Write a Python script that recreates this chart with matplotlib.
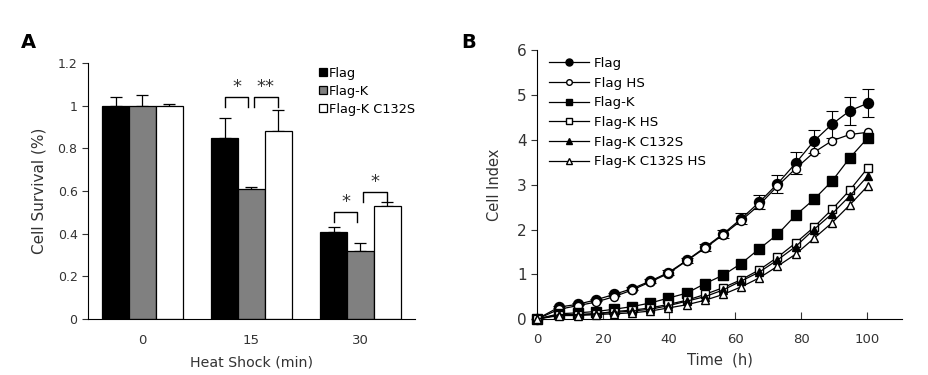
import matplotlib
matplotlib.use("Agg")

import matplotlib.pyplot as plt
import numpy as np

plt.rcParams["font.family"] = ["DejaVu Sans"]

# panel A: cell survival after heat shock
heat_shock = ["0", "15", "30"]
bar_series = ["Flag", "Flag-K", "Flag-K C132S"]
survival_flag = [1.00, 0.85, 0.41]
survival_flagk = [1.00, 0.61, 0.32]
survival_c132s = [1.00, 0.88, 0.53]
err_flag = [0.04, 0.09, 0.02]
err_flagk = [0.05, 0.01, 0.035]
err_c132s = [0.01, 0.10, 0.02]

# significance brackets: (group, left bar, right bar, height, label)
brackets = [
    (1, 0, 1, 1.04, "*"),
    (1, 1, 2, 1.04, "**"),
    (2, 0, 1, 0.50, "*"),
    (2, 1, 2, 0.595, "*"),
]

# panel B: cell index over time
time_h = [0, 6.7, 12.3, 17.8, 23.3, 28.8, 34.3, 39.8, 45.3, 50.8,
          56.3, 61.8, 67.3, 72.8, 78.3, 83.8, 89.3, 94.7, 100.2]
ci_flag = [0, 0.27, 0.33, 0.43, 0.55, 0.68, 0.85, 1.04, 1.31, 1.60,
           1.90, 2.24, 2.61, 3.02, 3.48, 3.97, 4.35, 4.65, 4.82]
ci_flag_err = [0, 0.02, 0.02, 0.03, 0.03, 0.04, 0.05, 0.05, 0.06, 0.07,
               0.09, 0.12, 0.16, 0.20, 0.24, 0.26, 0.30, 0.31, 0.31]
ci_flag_hs = [0, 0.22, 0.30, 0.38, 0.50, 0.65, 0.83, 1.02, 1.30, 1.58,
              1.88, 2.20, 2.55, 2.97, 3.36, 3.72, 3.98, 4.12, 4.17]
ci_flagk = [0, 0.12, 0.14, 0.17, 0.22, 0.28, 0.36, 0.47, 0.58, 0.79,
            0.98, 1.24, 1.57, 1.89, 2.32, 2.67, 3.08, 3.60, 4.05]
ci_flagk_hs = [0, 0.10, 0.10, 0.12, 0.17, 0.20, 0.25, 0.33, 0.42, 0.55,
               0.70, 0.88, 1.10, 1.38, 1.70, 2.05, 2.45, 2.88, 3.38]
ci_c132s = [0, 0.10, 0.10, 0.12, 0.15, 0.18, 0.22, 0.30, 0.40, 0.50,
            0.65, 0.85, 1.05, 1.32, 1.62, 2.00, 2.35, 2.75, 3.20]
ci_c132s_hs = [0, 0.08, 0.08, 0.10, 0.12, 0.14, 0.18, 0.25, 0.32, 0.42,
               0.55, 0.72, 0.92, 1.18, 1.45, 1.80, 2.15, 2.55, 2.98]
line_labels = ["Flag", "Flag HS", "Flag-K", "Flag-K HS", "Flag-K C132S", "Flag-K C132S HS"]

TXT = "#333333"

fig = plt.figure(figsize=(9.29, 3.75), dpi=100)

# ---- panel A ----
ax1 = fig.add_axes([0.0947, 0.149, 0.352, 0.683])
x = np.arange(len(heat_shock))
w = 0.245
colors = ["black", "#808080", "white"]
vals = [survival_flag, survival_flagk, survival_c132s]
errs = [err_flag, err_flagk, err_c132s]
for i, (v, e, c, lab) in enumerate(zip(vals, errs, colors, bar_series)):
    pos = x + (i - 1) * w
    ax1.bar(pos, v, width=w, color=c, edgecolor="black", linewidth=0.9, label=lab, zorder=2)
    ax1.errorbar(pos, v, yerr=[np.zeros(len(e)), e], fmt="none", ecolor="black",
                 elinewidth=0.9, capsize=4, capthick=0.9, zorder=1)

for g, b0, b1, h, lab in brackets:
    xl = g + (b0 - 1) * w
    xr = g + (b1 - 1) * w - 0.03
    if b0 == 1:
        xl = g + 0.02
        xr = g + w
    ax1.plot([xl, xl, xr, xr], [h - 0.045, h, h, h - 0.045], color="black", lw=1.0)
    ax1.text((xl + xr) / 2, h + 0.005, lab, ha="center", va="bottom", fontsize=13, color=TXT)

ax1.set_xlim(-0.5, 2.5)
ax1.set_ylim(0, 1.2)
ax1.set_yticks([0, 0.2, 0.4, 0.6, 0.8, 1.0, 1.2])
ax1.set_yticklabels(["0", "0.2", "0.4", "0.6", "0.8", "1", "1.2"])
ax1.set_xticks(x)
ax1.set_xticklabels(heat_shock)
ax1.tick_params(axis="x", length=0, pad=11, labelsize=9.5, colors=TXT)
ax1.tick_params(axis="y", length=4, direction="out", labelsize=9, colors=TXT)
for s in ["top", "right"]:
    ax1.spines[s].set_visible(False)
ax1.set_ylabel("Cell Survival (%)", fontsize=11, color=TXT, labelpad=8)
ax1.set_xlabel("Heat Shock (min)", fontsize=10.2, color=TXT, labelpad=6)
ax1.legend(loc="upper right", bbox_to_anchor=(1.035, 1.03), frameon=False, fontsize=9.3,
           handlelength=0.6, handleheight=0.6, handletextpad=0.15, labelspacing=0.38)
fig.text(0.022, 0.872, "A", fontsize=14, fontweight="bold")

# ---- panel B ----
ax2 = fig.add_axes([0.578, 0.149, 0.393, 0.717])
series = [ci_flag, ci_flag_hs, ci_flagk, ci_flagk_hs, ci_c132s, ci_c132s_hs]
markers = ["o", "o", "s", "s", "^", "^"]
sizes = [7.2, 5.8, 6.6, 6.2, 6.2, 6.2]
fills = ["black", "white", "black", "white", "black", "white"]
for y, m, ms, fc, lab in zip(series, markers, sizes, fills, line_labels):
    ax2.plot(time_h, y, marker=m, ms=ms, mfc=fc, mec="black", mew=1.0, color="black",
             lw=0.9, label=lab, clip_on=False, zorder=3)
ax2.errorbar(time_h, ci_flag, yerr=ci_flag_err, fmt="none", ecolor="black",
             elinewidth=0.8, capsize=4, capthick=0.8, zorder=2)

ax2.set_xlim(0, 110.5)
ax2.set_ylim(0, 6)
ax2.set_xticks([0, 20, 40, 60, 80, 100])
ax2.set_yticks([0, 1, 2, 3, 4, 5, 6])
ax2.tick_params(axis="x", direction="in", length=5, labelsize=9.5, colors=TXT, pad=10)
ax2.tick_params(axis="y", direction="out", length=4, labelsize=11, colors=TXT)
for s in ["top", "right"]:
    ax2.spines[s].set_visible(False)
ax2.set_ylabel("Cell Index", fontsize=10.5, color=TXT, labelpad=11)
ax2.set_xlabel("Time  (h)", fontsize=10.5, color=TXT, labelpad=5)
ax2.legend(loc="upper left", bbox_to_anchor=(0.0, 1.02), frameon=False, fontsize=9.6,
           handlelength=3.0, handletextpad=0.35, labelspacing=0.5, markerscale=0.7)
fig.text(0.497, 0.872, "B", fontsize=14, fontweight="bold")

fig.savefig("out.png", dpi=100)
